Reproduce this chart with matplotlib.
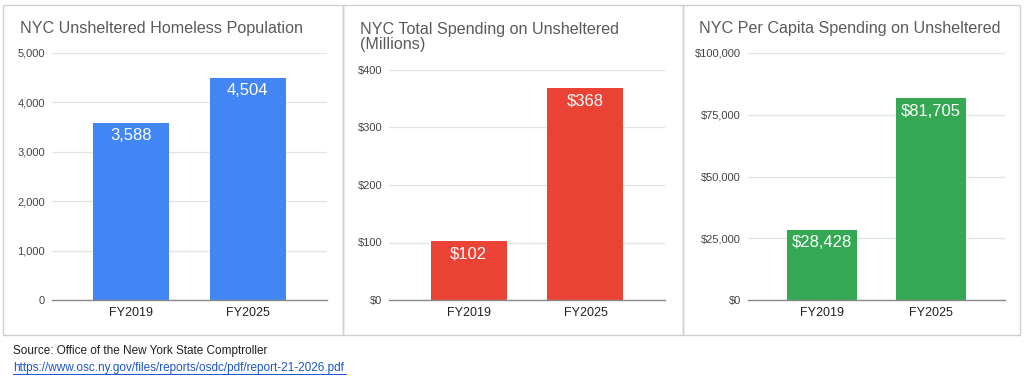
import matplotlib.pyplot as plt
from matplotlib.patches import Rectangle
from matplotlib.ticker import FuncFormatter

plt.rcParams['font.family'] = ['Liberation Sans', 'DejaVu Sans']

years = ['FY2019', 'FY2025']
population = [3588, 4504]
spending_millions = [102, 368]
per_capita = [28428, 81705]

W, H = 1024, 379
fig = plt.figure(figsize=(W / 100, H / 100), dpi=100)
fig.patch.set_facecolor('white')


def px_axes(x0, y0, x1, y1):
    # pixel box (top-left origin) -> figure fraction
    return fig.add_axes([x0 / W, 1 - y1 / H, (x1 - x0) / W, (y1 - y0) / H])


def panel_box(x0, x1):
    fig.add_artist(Rectangle((x0 / W, 1 - 335 / H), (x1 - x0) / W, 330 / H,
                             transform=fig.transFigure, fill=False,
                             edgecolor='#cfcfcf', lw=1.0))


def draw_panel(ax, vals, color, ymax, step, fmt, labels):
    ax.bar([0, 1], vals, width=0.65, color=color, zorder=3)
    ax.set_xlim(-0.68, 1.68)
    ax.set_ylim(0, ymax)
    ax.set_yticks(range(0, ymax + 1, step))
    ax.yaxis.set_major_formatter(FuncFormatter(lambda v, p: fmt(v)))
    ax.set_xticks([0, 1])
    ax.set_xticklabels(years)
    ax.grid(axis='y', color='#e3e3e3', lw=0.9, zorder=0)
    for s in ['top', 'right', 'left']:
        ax.spines[s].set_visible(False)
    ax.spines['bottom'].set_color('#8a8a8a')
    ax.spines['bottom'].set_linewidth(1.0)
    ax.spines['bottom'].set_zorder(4)
    ax.tick_params(axis='y', length=0, labelsize=8, labelcolor='#444444', pad=5)
    ax.tick_params(axis='x', length=0, labelsize=9, labelcolor='#222222', pad=5)
    for i, v in enumerate(vals):
        ax.text(i, v - ymax * 0.022, labels[i], ha='center', va='top',
                color='white', fontsize=12, zorder=5)


panel_box(3, 343)
panel_box(343, 683)
panel_box(683, 1020)

title_kw = dict(fontsize=11.6, color='#5a5a5a', va='center')

ax1 = px_axes(52, 53, 327, 300)
draw_panel(ax1, population, '#4285F4', 5000, 1000,
           lambda v: f'{int(v):,}', [f'{v:,}' for v in population])
fig.text(20 / W, 1 - 28 / H, 'NYC Unsheltered Homeless Population', **title_kw)

ax2 = px_axes(389, 70, 665, 300)
draw_panel(ax2, spending_millions, '#EA4335', 400, 100,
           lambda v: f'${int(v)}', [f'${v}' for v in spending_millions])
fig.text(360 / W, 1 - 37 / H, 'NYC Total Spending on Unsheltered\n(Millions)',
         linespacing=0.95, **title_kw)

ax3 = px_axes(748, 53, 1005, 300)
draw_panel(ax3, per_capita, '#34A853', 100000, 25000,
           lambda v: f'${int(v):,}', [f'${v:,}' for v in per_capita])
fig.text(699 / W, 1 - 28 / H, 'NYC Per Capita Spending on Unsheltered', **title_kw)

fig.text(13 / W, 1 - 351 / H, 'Source: Office of the New York State Comptroller',
         fontsize=8.5, color='#222222', va='center')
fig.text(13 / W, 1 - 368 / H,
         'https://www.osc.ny.gov/files/reports/osdc/pdf/report-21-2026.pdf',
         fontsize=8.5, color='#1a55c8', va='center')
fig.add_artist(plt.Line2D([13 / W, 346 / W], [1 - 374 / H, 1 - 374 / H],
                          transform=fig.transFigure, color='#1a55c8', lw=0.7))

fig.savefig('out.png', dpi=100, facecolor='white')
